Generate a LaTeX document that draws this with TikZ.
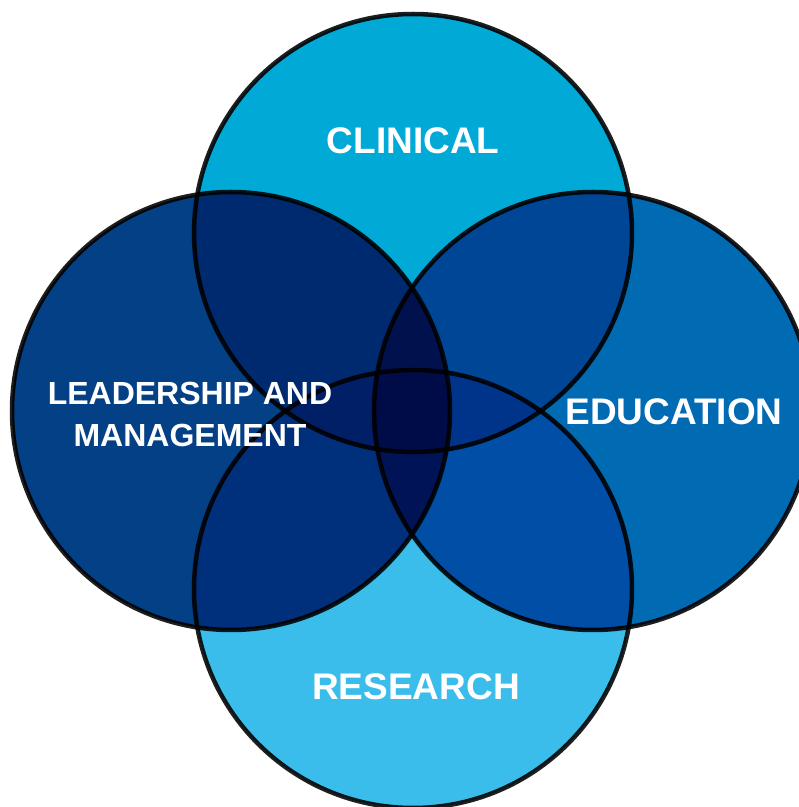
\documentclass[tikz,border=0pt]{standalone}
\usepackage{fontspec}
\setmainfont{Liberation Sans}
\definecolor{cTop}{HTML}{00A9D6}
\definecolor{cBot}{HTML}{3BBDEC}
\definecolor{cLeft}{HTML}{034085}
\definecolor{cRight}{HTML}{006AB3}
\definecolor{cLine}{HTML}{1E1E1E}
\tikzset{
  blob/.style={blend mode=multiply},
  rim/.style={draw=cLine, line width=4.5pt, blend mode=multiply},
  lab/.style={text=white, font=\bfseries\fontsize{37}{42}\selectfont, inner sep=0pt},
  labsm/.style={text=white, font=\bfseries\fontsize{32}{42}\selectfont, inner sep=0pt, align=center}
}
\begin{document}
\begin{tikzpicture}[x=1pt,y=1pt]
\useasboundingbox (0,0) rectangle (799,807);
\clip (0,0) rectangle (799,807);
\coordinate (ctop) at (413,574);
\coordinate (cleft) at (231,396);
\coordinate (cright) at (593,396);
\coordinate (cbot) at (413,218);
\fill[cTop, blob] (ctop) circle (219);
\fill[cLeft, blob] (cleft) circle (219);
\fill[cRight, blob] (cright) circle (219);
\fill[cBot, blob] (cbot) circle (219);
\draw[rim] (ctop) circle (219);
\draw[rim] (cleft) circle (219);
\draw[rim] (cright) circle (219);
\draw[rim] (cbot) circle (219);
\node[lab] (clin) at (413,666) {CLINICAL};
\node[lab] (edu) at (674,395) {EDUCATION};
\node[lab] (res) at (416,120) {RESEARCH};
\node[labsm] (lead) at (190,393) {LEADERSHIP AND\\MANAGEMENT};
\end{tikzpicture}
\end{document}
